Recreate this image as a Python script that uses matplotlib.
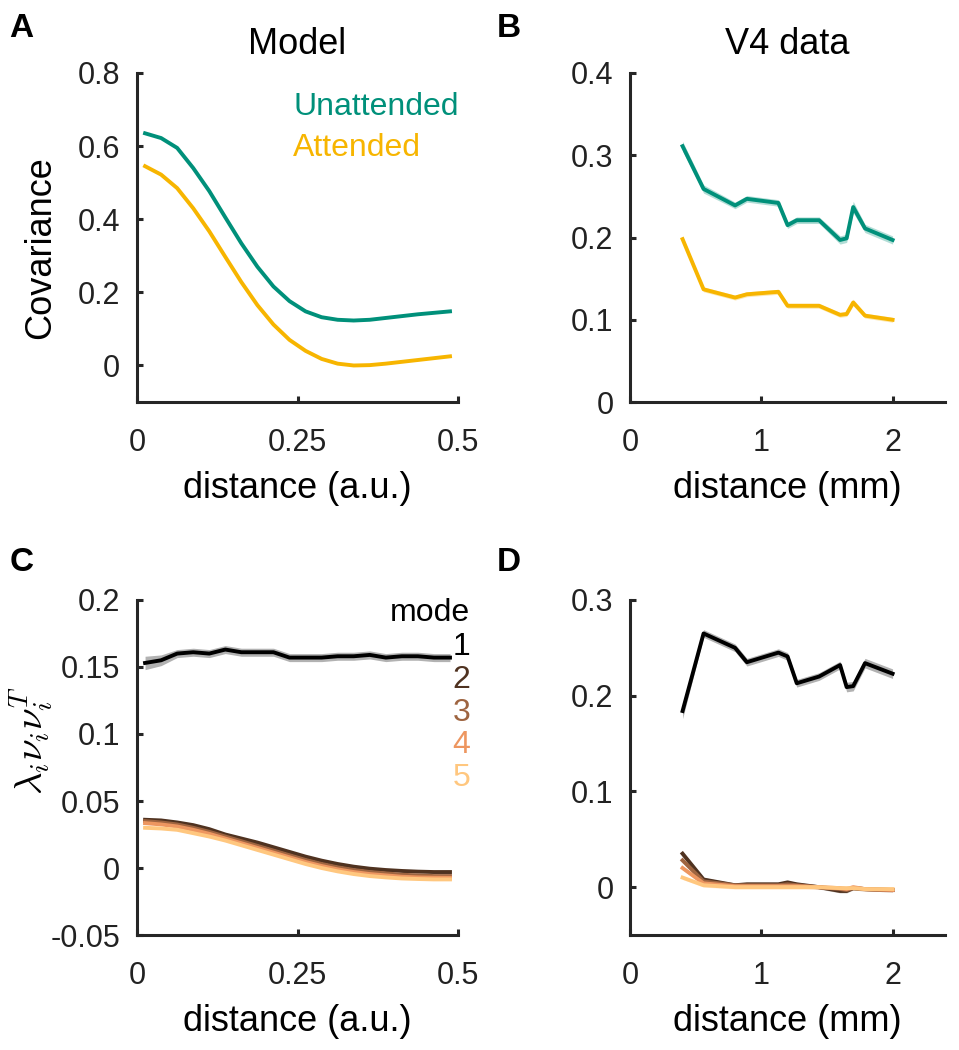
import numpy as np
import matplotlib
matplotlib.use('Agg')
import matplotlib.pyplot as plt

plt.rcParams['font.family'] = ['Liberation Sans', 'DejaVu Sans']
plt.rcParams['mathtext.fontset'] = 'cm'

green = '#00907a'
yellow = '#f7b500'
axcol = '#262626'

# model curves (panel A, C)
x_model = [0.0125, 0.0375, 0.0625, 0.0875, 0.1125, 0.1375, 0.1625, 0.1875, 0.2125, 0.2375,
           0.2625, 0.2875, 0.3125, 0.3375, 0.3625, 0.3875, 0.4125, 0.4375, 0.4625, 0.4875]
unatt_model = [0.635, 0.622, 0.595, 0.540, 0.477, 0.405, 0.334, 0.270, 0.216, 0.176,
               0.148, 0.132, 0.125, 0.123, 0.125, 0.130, 0.135, 0.140, 0.144, 0.148]
att_model = [0.545, 0.522, 0.485, 0.430, 0.367, 0.297, 0.228, 0.165, 0.112, 0.070,
             0.040, 0.018, 0.005, 0.000, 0.001, 0.005, 0.010, 0.015, 0.020, 0.025]

mode1_model = [0.153, 0.155, 0.160, 0.161, 0.160, 0.163, 0.161, 0.161, 0.161, 0.157,
               0.157, 0.157, 0.158, 0.158, 0.159, 0.157, 0.158, 0.158, 0.157, 0.157]
mode2_model = [0.036, 0.0355, 0.034, 0.032, 0.029, 0.025, 0.022, 0.019, 0.0155, 0.012,
               0.0085, 0.0055, 0.003, 0.001, -0.0005, -0.0015, -0.0022, -0.0027, -0.003, -0.003]
mode3_model = [0.035, 0.034, 0.0325, 0.030, 0.027, 0.0235, 0.020, 0.0165, 0.013, 0.0095,
               0.006, 0.003, 0.0005, -0.0015, -0.003, -0.004, -0.005, -0.0055, -0.006, -0.006]
mode4_model = [0.0335, 0.0325, 0.031, 0.0285, 0.0255, 0.022, 0.0185, 0.015, 0.0115, 0.008,
               0.0045, 0.0015, -0.001, -0.003, -0.0045, -0.0055, -0.0065, -0.007, -0.0072, -0.0073]
mode5_model = [0.030, 0.0295, 0.0285, 0.026, 0.0235, 0.0205, 0.017, 0.0135, 0.010, 0.0065,
               0.003, 0.0, -0.0025, -0.0045, -0.006, -0.007, -0.0078, -0.0082, -0.0085, -0.0085]
mode1_model_sem = [0.005, 0.004, 0.003, 0.003, 0.003, 0.003, 0.003, 0.003, 0.003, 0.003,
                   0.003, 0.003, 0.003, 0.003, 0.003, 0.003, 0.003, 0.003, 0.003, 0.003]

# V4 data (panel B, D)
x_v4 = [0.40, 0.56, 0.80, 0.89, 1.13, 1.20, 1.27, 1.44, 1.60, 1.65, 1.70, 1.79, 2.00]
unatt_v4 = [0.311, 0.259, 0.239, 0.247, 0.242, 0.215, 0.221, 0.221, 0.197, 0.199, 0.237, 0.211, 0.197]
unatt_v4_sem = [0.006, 0.005, 0.004, 0.004, 0.004, 0.004, 0.004, 0.004, 0.005, 0.005, 0.007, 0.005, 0.005]
att_v4 = [0.198, 0.137, 0.127, 0.131, 0.134, 0.117, 0.117, 0.117, 0.106, 0.107, 0.121, 0.105, 0.100]
att_v4_sem = [0.004, 0.003, 0.003, 0.003, 0.003, 0.003, 0.003, 0.003, 0.003, 0.003, 0.004, 0.003, 0.003]

mode1_v4 = [0.184, 0.265, 0.250, 0.235, 0.245, 0.241, 0.213, 0.220, 0.232, 0.209, 0.210, 0.234, 0.223]
mode1_v4_sem = [0.008, 0.004, 0.004, 0.004, 0.004, 0.004, 0.004, 0.004, 0.004, 0.005, 0.005, 0.005, 0.005]
mode2_v4 = [0.035, 0.008, 0.002, 0.003, 0.003, 0.005, 0.003, 0.000, -0.004, -0.004, -0.001, -0.002, -0.003]
mode3_v4 = [0.028, 0.006, 0.002, 0.002, 0.002, 0.003, 0.002, 0.000, -0.002, -0.003, -0.001, -0.002, -0.003]
mode4_v4 = [0.020, 0.004, 0.001, 0.001, 0.001, 0.001, 0.001, 0.000, -0.001, -0.002, 0.000, -0.002, -0.003]
mode5_v4 = [0.010, 0.002, 0.000, 0.000, 0.000, 0.000, 0.000, 0.000, -0.001, -0.001, -0.001, -0.002, -0.002]

mode_cols = ['black'] + [plt.cm.copper(v) for v in [0.25, 0.5, 0.75, 1.0]]

fig = plt.figure(figsize=(9.59, 10.5), dpi=100)
axA = fig.add_axes([0.1429, 0.6171, 0.3347, 0.3134])
axB = fig.add_axes([0.6570, 0.6171, 0.3285, 0.3134])
axC = fig.add_axes([0.1429, 0.1095, 0.3347, 0.3191])
axD = fig.add_axes([0.6570, 0.1095, 0.3285, 0.3191])


def style(ax):
    for s in ['top', 'right']:
        ax.spines[s].set_visible(False)
    for s in ['left', 'bottom']:
        ax.spines[s].set_linewidth(2.2)
        ax.spines[s].set_color(axcol)
    ax.tick_params(direction='in', length=4, width=2.2, color=axcol,
                   labelsize=22, labelcolor='#222222')
    ax.tick_params(axis='y', pad=12)
    ax.tick_params(axis='x', pad=19)


def band(ax, x, y, e, c, lw=2.8):
    y = np.array(y); e = np.array(e)
    ax.fill_between(x, y - e, y + e, color=c, alpha=0.3, lw=0)
    ax.plot(x, y, color=c, lw=lw)


# A
axA.plot(x_model, unatt_model, color=green, lw=2.8)
axA.plot(x_model, att_model, color=yellow, lw=2.8)
axA.set_xlim(0, 0.5)
axA.set_ylim(-0.1, 0.8)
axA.set_xticks([0, 0.25, 0.5], ['0', '0.25', '0.5'])
axA.set_yticks([0, 0.2, 0.4, 0.6, 0.8], ['0', '0.2', '0.4', '0.6', '0.8'])
axA.set_title('Model', fontsize=26, pad=14)
axA.set_xlabel('distance (a.u.)', fontsize=26, labelpad=9)
axA.set_ylabel('Covariance', fontsize=26)
axA.yaxis.set_label_coords(-0.245, 0.47)
axA.text(0.243, 0.707, 'Unattended', color=green, fontsize=23, va='center')
axA.text(0.243, 0.595, 'Attended', color=yellow, fontsize=23, va='center')
style(axA)

# B
band(axB, x_v4, unatt_v4, unatt_v4_sem, green)
band(axB, x_v4, att_v4, att_v4_sem, yellow)
axB.set_xlim(0, 2.4)
axB.set_ylim(0, 0.4)
axB.set_xticks([0, 1, 2], ['0', '1', '2'])
axB.set_yticks([0, 0.1, 0.2, 0.3, 0.4], ['0', '0.1', '0.2', '0.3', '0.4'])
axB.set_title('V4 data', fontsize=26, pad=14)
axB.set_xlabel('distance (mm)', fontsize=26, labelpad=9)
style(axB)

# C
modes_model = [mode2_model, mode3_model, mode4_model, mode5_model]
band(axC, x_model, mode1_model, mode1_model_sem, 'black')
for m, c in zip(modes_model, mode_cols[1:]):
    axC.plot(x_model, m, color=c, lw=2.8)
axC.set_xlim(0, 0.5)
axC.set_ylim(-0.05, 0.2)
axC.set_xticks([0, 0.25, 0.5], ['0', '0.25', '0.5'])
axC.set_yticks([-0.05, 0, 0.05, 0.1, 0.15, 0.2], ['-0.05', '0', '0.05', '0.1', '0.15', '0.2'])
axC.set_xlabel('distance (a.u.)', fontsize=26, labelpad=9)
axC.set_ylabel(r'$\lambda_i \nu_i \nu_i^T$', fontsize=28)
axC.yaxis.set_label_coords(-0.255, 0.58)
axC.text(0.519, 0.190, 'mode', fontsize=23, ha='right', va='center', clip_on=False)
for i, c in enumerate(mode_cols):
    axC.text(0.519, 0.165 - 0.0245 * i, str(i + 1), color=c, fontsize=23,
             ha='right', va='center', clip_on=False)
style(axC)

# D
modes_v4 = [mode2_v4, mode3_v4, mode4_v4, mode5_v4]
band(axD, x_v4, mode1_v4, mode1_v4_sem, 'black')
for m, c in zip(modes_v4, mode_cols[1:]):
    band(axD, x_v4, m, [0.002] * len(m), c)
axD.set_xlim(0, 2.4)
axD.set_ylim(-0.05, 0.3)
axD.set_xticks([0, 1, 2], ['0', '1', '2'])
axD.set_yticks([0, 0.1, 0.2, 0.3], ['0', '0.1', '0.2', '0.3'])
axD.set_xlabel('distance (mm)', fontsize=26, labelpad=9)
style(axD)

for lab, x, y in [('A', 0.010, 0.988), ('B', 0.518, 0.988), ('C', 0.010, 0.479), ('D', 0.518, 0.479)]:
    fig.text(x, y, lab, fontsize=24, fontweight='bold', ha='left', va='top')

fig.savefig('out.png', dpi=100)
